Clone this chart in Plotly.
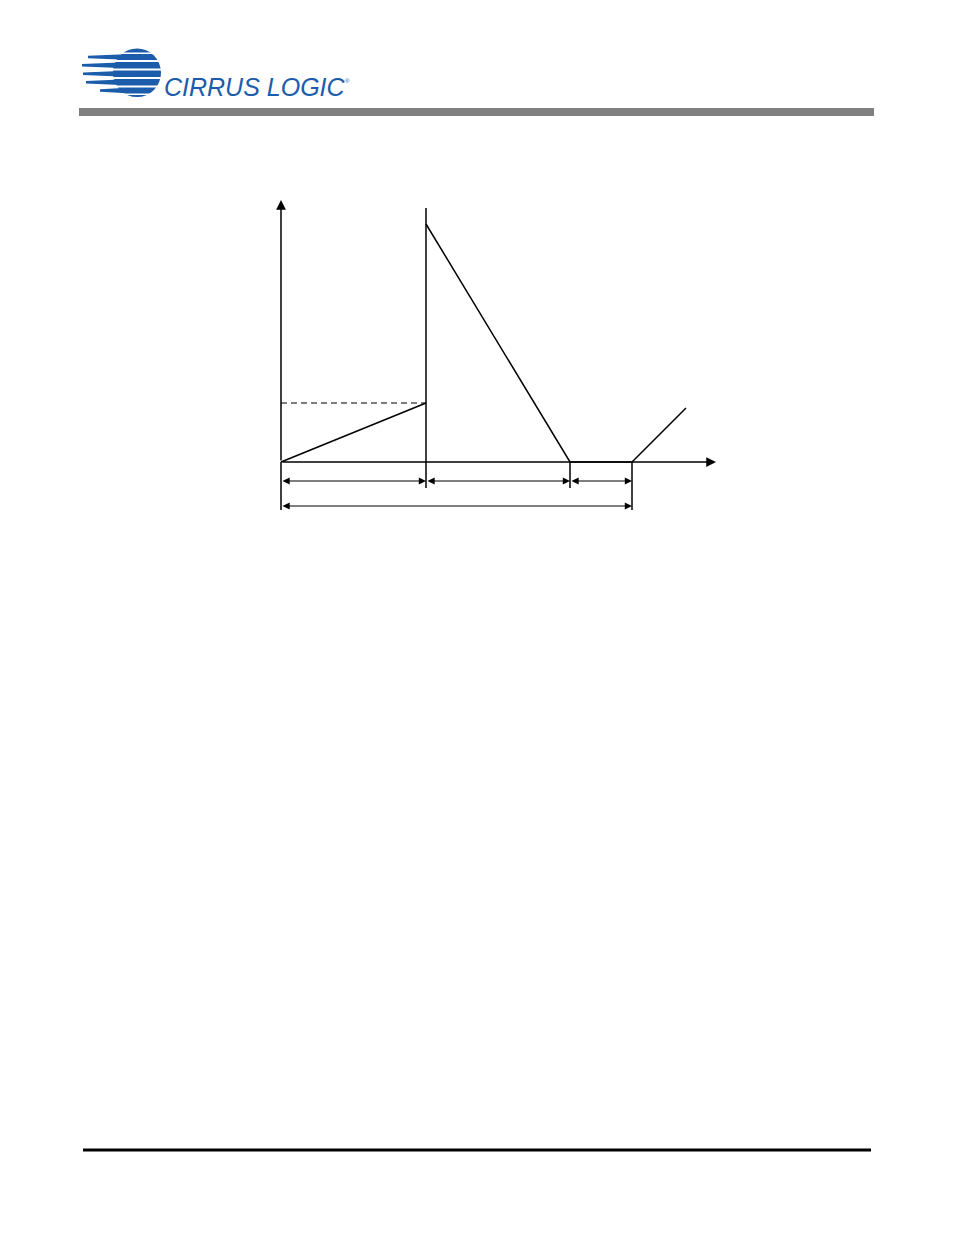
import plotly.graph_objects as go

W, H = 954, 1235

# Waveform (time units, level units)
wave_t = [0, 145, None, 145, 289, 351, 405]
wave_v = [0, 59, None, 238, 0, 0, 54]
ramp_end_t = 145
ramp_end_v = 59

# Event markers: time, lower extent, upper extent
marker_t = [145, 289, 351]
marker_lo = [-26, -26, -48]
marker_hi = [254, 0, 0]

# Dimension intervals (start, end, level)
dim_start = [0, 145, 289, 0]
dim_end = [145, 289, 351, 351]
dim_level = [-19, -19, -19, -44]

# Axes extents
x_axis_end = 435
y_axis_top = 262
y_axis_bottom = -48

ORIGIN_PX = (281, 462)
LW = 1.5

fig = go.Figure()

fig.add_trace(go.Scatter(x=wave_t, y=wave_v, mode="lines", connectgaps=False,
                         line=dict(color="black", width=LW), hoverinfo="skip"))
fig.add_trace(go.Scatter(x=[0, ramp_end_t], y=[ramp_end_v, ramp_end_v], mode="lines",
                         line=dict(color="black", width=1.2, dash="6px,4px"), hoverinfo="skip"))
for t, lo, hi in zip(marker_t, marker_lo, marker_hi):
    fig.add_trace(go.Scatter(x=[t, t], y=[lo, hi], mode="lines",
                             line=dict(color="black", width=LW), hoverinfo="skip"))
fig.add_trace(go.Scatter(x=[0, 0], y=[y_axis_bottom, 0], mode="lines",
                         line=dict(color="black", width=LW), hoverinfo="skip"))

annotations = []
annotations.append(dict(x=x_axis_end, y=0, ax=0, ay=0, xref="x", yref="y", axref="x", ayref="y",
                        text="", showarrow=True, arrowhead=2, arrowsize=1.3, arrowwidth=LW,
                        arrowcolor="black", standoff=0))
annotations.append(dict(x=0, y=y_axis_top, ax=0, ay=0, xref="x", yref="y", axref="x", ayref="y",
                        text="", showarrow=True, arrowhead=2, arrowsize=1.3, arrowwidth=LW,
                        arrowcolor="black", standoff=0))
for s, e, lv in zip(dim_start, dim_end, dim_level):
    annotations.append(dict(x=e, y=lv, ax=s, ay=lv, xref="x", yref="y", axref="x", ayref="y",
                            text="", showarrow=True, arrowhead=2, startarrowhead=2,
                            arrowside="end+start", arrowsize=1.2, startarrowsize=1.2,
                            arrowwidth=1.2, arrowcolor="black", standoff=0, startstandoff=0))

BLUE = "#1b5cab"

def px(x):
    return x / W

def py(y):
    return 1 - y / H

annotations.append(dict(x=px(162), y=py(103), xref="paper", yref="paper", xanchor="left", yanchor="bottom",
                        text="<i>CIRRUS LOGIC</i>", showarrow=False,
                        font=dict(family="Liberation Sans, Arial", size=25, color=BLUE)))
annotations.append(dict(x=px(343), y=py(86), xref="paper", yref="paper", xanchor="left", yanchor="bottom",
                        text="®", showarrow=False,
                        font=dict(family="Liberation Sans", size=6, color=BLUE)))

shapes = []
shapes.append(dict(type="circle", xref="paper", yref="paper", x0=px(113), x1=px(161), y0=py(97), y1=py(48.5),
                   fillcolor=BLUE, line=dict(width=0), layer="above"))
bands = [(88, 54, 60), (82, 62, 68.5), (83, 70.5, 77), (86, 79, 85.5), (100, 87.5, 93.5)]
for x0, y0, y1 in bands:
    yc = (y0 + y1) / 2
    path = (f"M {px(x0)} {py(yc - 1.2)} L {px(132)} {py(y0)} L {px(132)} {py(y1)} "
            f"L {px(x0)} {py(yc + 1.2)} Z")
    shapes.append(dict(type="path", xref="paper", yref="paper", path=path,
                       fillcolor=BLUE, line=dict(width=0), layer="above"))
gaps = [(52.5, 54), (60, 62), (68.5, 70.5), (77, 79), (85.5, 87.5), (93.5, 95)]
for y0, y1 in gaps:
    shapes.append(dict(type="rect", xref="paper", yref="paper", x0=px(78), x1=px(166), y0=py(y1), y1=py(y0),
                       fillcolor="white", line=dict(width=0), layer="above"))
shapes.append(dict(type="rect", xref="paper", yref="paper", x0=px(79), x1=px(874), y0=py(116), y1=py(108),
                   fillcolor="#808080", line=dict(width=0), layer="above"))
shapes.append(dict(type="rect", xref="paper", yref="paper", x0=px(83), x1=px(871), y0=py(1151.5), y1=py(1148.5),
                   fillcolor="black", line=dict(width=0), layer="above"))

ox, oy = ORIGIN_PX
fig.update_layout(
    width=W, height=H, margin=dict(l=0, r=0, t=0, b=0),
    paper_bgcolor="white", plot_bgcolor="white", showlegend=False,
    xaxis=dict(range=[-ox, W - ox], visible=False, fixedrange=True),
    yaxis=dict(range=[oy - H, oy], visible=False, fixedrange=True),
    annotations=annotations, shapes=shapes,
)

fig.write_html("out.html", config={"displayModeBar": False},
               post_script="document.body.style.margin='0';document.body.style.overflow='hidden';")
